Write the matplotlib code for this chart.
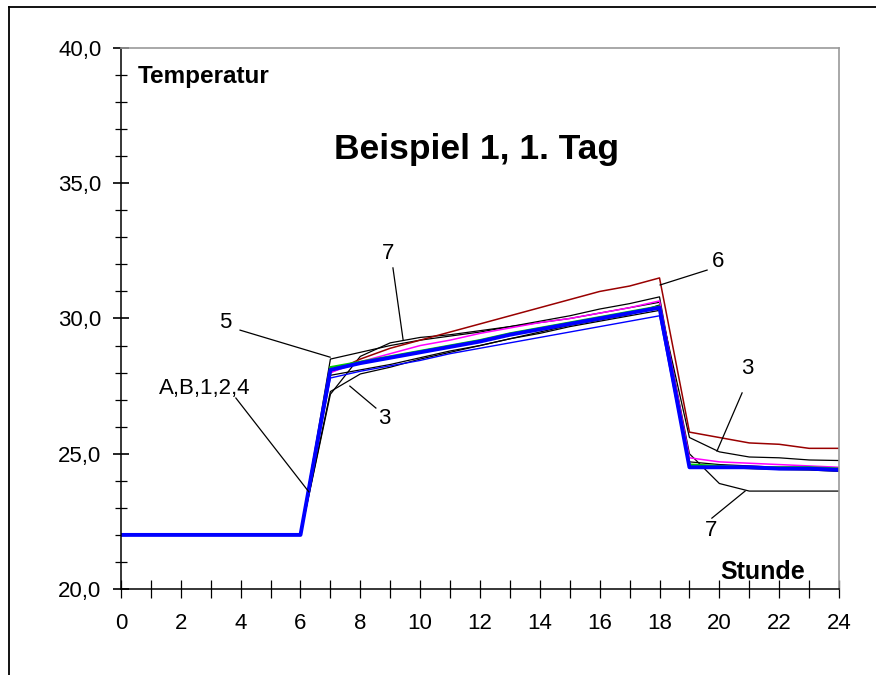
import matplotlib.pyplot as plt
from matplotlib.lines import Line2D
from matplotlib.ticker import MultipleLocator, FuncFormatter

plt.rcParams['font.family'] = ['Liberation Sans', 'DejaVu Sans']

# Stunden 0..24, vor Sonnenaufgang alles bei 22 Grad
hours = list(range(25))
base = [22.0] * 7

var_a = base + [28.1, 28.35, 28.55, 28.75, 28.95, 29.15, 29.4, 29.6, 29.8, 30.0, 30.2, 30.4,
                24.5, 24.5, 24.5, 24.45, 24.45, 24.4]
var_b = base + [27.8, 28.05, 28.25, 28.45, 28.7, 28.9, 29.1, 29.3, 29.5, 29.7, 29.9, 30.1,
                24.5, 24.5, 24.48, 24.45, 24.45, 24.45]
var_1 = base + [28.2, 28.4, 28.6, 28.8, 29.0, 29.2, 29.45, 29.65, 29.85, 30.05, 30.25, 30.45,
                24.6, 24.55, 24.5, 24.5, 24.5, 24.45]
var_2 = base + [28.0, 28.4, 28.7, 29.0, 29.2, 29.45, 29.65, 29.85, 30.0, 30.2, 30.4, 30.65,
                24.85, 24.7, 24.65, 24.6, 24.55, 24.5]
var_4 = base + [27.9, 28.1, 28.3, 28.55, 28.8, 29.0, 29.25, 29.45, 29.7, 29.9, 30.1, 30.3,
                24.55, 24.5, 24.45, 24.42, 24.4, 24.35]
var_3 = base + [27.3, 27.95, 28.2, 28.5, 28.75, 29.0, 29.25, 29.5, 29.75, 29.95, 30.15, 30.5,
                25.6, 25.07, 24.88, 24.85, 24.77, 24.75]
var_5 = base + [28.5, 28.75, 29.0, 29.2, 29.35, 29.5, 29.7, 29.9, 30.1, 30.35, 30.55, 30.8,
                24.7, 24.6, 24.55, 24.5, 24.5, 24.45]
var_6 = base + [28.0, 28.5, 28.9, 29.2, 29.5, 29.8, 30.1, 30.4, 30.7, 31.0, 31.2, 31.5,
                25.8, 25.6, 25.4, 25.35, 25.2, 25.2]
var_7 = base + [27.2, 28.6, 29.1, 29.3, 29.4, 29.55, 29.7, 29.85, 30.0, 30.2, 30.4, 30.6,
                25.0, 23.9, 23.62, 23.62, 23.62, 23.62]

fig = plt.figure(figsize=(8.76, 6.75), dpi=100)
ax = fig.add_axes([0.1381, 0.1274, 0.8197, 0.8015])

# Rahmen um das Blatt (oben und links)
fig.add_artist(Line2D([0.0103, 1.0], [0.9896, 0.9896], color='black', lw=1.3))
fig.add_artist(Line2D([0.0103, 0.0103], [0.0, 0.9896], color='black', lw=1.3))

for ys in (var_3, var_4, var_5, var_7):
    ax.plot(hours, ys, color='black', lw=0.9)
ax.plot(hours, var_6, color='#990000', lw=1.1)
ax.plot(hours, var_2, color='#ff00ff', lw=1.1)
ax.plot(hours, var_1, color='#00cc00', lw=1.6)
ax.plot(hours, var_b, color='#0000ff', lw=1.0)
ax.plot(hours, var_a, color='#0000ff', lw=2.8)

ax.set_xlim(0, 24)
ax.set_ylim(20, 40)

ax.xaxis.set_major_locator(MultipleLocator(2))
ax.xaxis.set_minor_locator(MultipleLocator(1))
ax.yaxis.set_major_locator(MultipleLocator(5))
ax.yaxis.set_minor_locator(MultipleLocator(1))
ax.yaxis.set_major_formatter(FuncFormatter(lambda v, p: f'{v:.1f}'.replace('.', ',')))

ax.tick_params(axis='x', which='both', direction='inout', length=13, width=0.9,
               labelsize=16, pad=11)
ax.tick_params(axis='y', which='major', direction='inout', length=12, width=1.2,
               labelsize=16, pad=8)
ax.tick_params(axis='y', which='minor', direction='inout', length=9, width=0.9)

for side in ('top', 'right'):
    ax.spines[side].set_color('#999999')
    ax.spines[side].set_linewidth(1.2)
for side in ('left', 'bottom'):
    ax.spines[side].set_linewidth(1.1)

ax.text(0.57, 38.93, 'Temperatur', fontsize=17.5, fontweight='bold', va='center', ha='left')
ax.text(21.46, 20.63, 'Stunde', fontsize=18, fontweight='bold', va='center', ha='center')
ax.text(11.87, 36.23, 'Beispiel 1, 1. Tag', fontsize=25.5, fontweight='bold',
        va='center', ha='center')

# Beschriftungen der Kurven mit Hinweislinien
notes = [
    ('7', (8.92, 32.42), (9.09, 31.87), (9.43, 29.21)),
    ('5', (3.48, 29.87), (3.98, 29.57), (6.99, 28.57)),
    ('A,B,1,2,4', (2.81, 27.43), (3.84, 27.06), (6.28, 23.59)),
    ('3', (8.79, 26.32), (8.52, 26.69), (7.65, 27.50)),
    ('6', (19.96, 32.09), (19.59, 31.79), (18.02, 31.24)),
    ('3', (20.92, 28.17), (20.76, 27.25), (19.92, 25.10)),
    ('7', (19.72, 22.18), (19.75, 22.62), (20.86, 23.62)),
]
for txt, pos, p0, p1 in notes:
    ax.text(pos[0], pos[1], txt, fontsize=16, ha='center', va='center')
    ax.plot([p0[0], p1[0]], [p0[1], p1[1]], color='black', lw=0.9)

fig.savefig('out.png', dpi=100)
